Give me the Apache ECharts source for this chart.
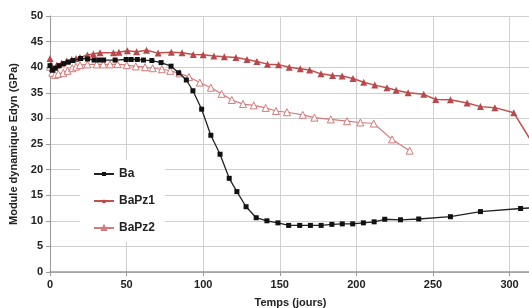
<!DOCTYPE html>
<html>
<head>
<meta charset="utf-8">
<script src="https://cdn.jsdelivr.net/npm/echarts@6/dist/echarts.min.js"></script>
<style>
  html, body { margin: 0; padding: 0; background: #fff; }
  #chart { width: 529px; height: 308px; }
</style>
</head>
<body>
<div id="chart"></div>
<script>
// valeurs (jours, GPa)
const daysBa = [0, 1.5, 3.5, 6, 9, 12, 15, 20, 24.5, 28.8, 32, 35, 42.5, 49.7, 53, 57, 61, 66.5, 72.5, 79, 84, 89, 93.3, 99, 105, 111, 117, 122, 128, 134.6, 141.6, 148.8, 155.8, 163, 170, 177, 184, 190.8, 197.6, 204.6, 211.6, 218.5, 228.8, 240.7, 261.4, 281, 307.2, 330];
const edynBa = [40.3, 39.4, 39.8, 40.3, 40.7, 41.0, 41.3, 41.7, 41.6, 41.4, 41.4, 41.4, 41.4, 41.5, 41.5, 41.5, 41.4, 41.3, 40.9, 40.2, 38.9, 37.5, 35.4, 31.8, 26.7, 23.0, 18.3, 15.7, 12.75, 10.6, 10.0, 9.6, 9.1, 9.1, 9.1, 9.1, 9.3, 9.4, 9.4, 9.6, 9.8, 10.3, 10.2, 10.35, 10.8, 11.8, 12.4, 12.8];

const daysPz1 = [0, 1.5, 4.4, 7.6, 10.9, 14.2, 17, 19.6, 24.4, 28.3, 32.7, 41.4, 45, 50.5, 56.5, 63, 70.6, 79.2, 86.2, 93.5, 100, 107, 113.8, 121.4, 128.6, 135.1, 142, 149.2, 156.2, 163.4, 169.5, 176.9, 184.5, 190.7, 197.8, 204.8, 212, 220, 226, 233.8, 244, 251.8, 261.4, 272.3, 281, 290.4, 302.8, 320];
const edynPz1 = [41.7, 39.8, 40.4, 40.75, 41.2, 41.5, 41.7, 41.9, 42.4, 42.6, 42.8, 42.8, 42.9, 43.2, 43.0, 43.3, 42.75, 42.9, 42.8, 42.5, 42.45, 42.2, 42.05, 41.9, 41.5, 41.1, 40.6, 40.5, 40.0, 39.7, 39.45, 38.7, 38.4, 38.3, 37.8, 37.05, 36.5, 36.0, 35.5, 35.0, 34.7, 33.7, 33.65, 33.0, 32.3, 32.1, 31.1, 22.7];

const daysPz2 = [0, 1.5, 3.3, 5.4, 8.7, 11.5, 14.5, 17, 19.6, 24.4, 30.5, 34.8, 39.2, 44, 50.1, 56, 62, 67, 73, 78.5, 84.5, 90.7, 97.8, 105, 112, 118.7, 126, 133, 140.8, 147.5, 154.7, 165, 172.6, 183.3, 193.9, 202.6, 211.3, 223.3, 234.8];
const edynPz2 = [40.1, 38.9, 38.5, 38.7, 38.9, 39.3, 39.8, 40.1, 40.4, 40.55, 40.55, 40.55, 40.55, 40.6, 40.4, 40.15, 40.0, 39.8, 39.6, 39.3, 38.8, 38.1, 37.0, 36.0, 34.8, 33.6, 32.8, 32.55, 32.05, 31.45, 31.2, 30.7, 30.15, 29.8, 29.45, 29.2, 29.0, 25.9, 23.7];

const xTicks = [0, 50, 100, 150, 200, 250, 300];

function pairs(xs, ys) {
  return xs.map((x, i) => [x, ys[i]]);
}

const chart = echarts.init(document.getElementById('chart'));

const option = {
  animation: false,
  backgroundColor: '#fff',
  textStyle: { fontFamily: 'Liberation Sans, Arial, sans-serif' },
  grid: { left: 50, top: 16, right: -2, bottom: 36, outerBoundsMode: 'none' },
  legend: {
    orient: 'vertical',
    left: 80,
    top: 160,
    padding: [8, 10, 8, 13],
    itemWidth: 20,
    itemHeight: 5,
    itemGap: 15,
    backgroundColor: '#fff',
    textStyle: { fontSize: 12, fontWeight: 'bold', color: '#222' },
    data: ['Ba', 'BaPz1', 'BaPz2']
  },
  xAxis: {
    type: 'value',
    min: 0,
    max: 314,
    interval: 50,
    name: 'Temps (jours)',
    nameLocation: 'middle',
    nameGap: 25,
    nameTextStyle: { fontSize: 11, fontWeight: 'bold', color: '#222' },
    axisLine: { lineStyle: { color: '#999', width: 1.5 } },
    axisTick: { show: true, length: 4, lineStyle: { color: '#999' } },
    axisLabel: {
      fontSize: 11, fontWeight: 'bold', color: '#222', margin: 7,
      formatter: v => xTicks.includes(v) ? String(v) : ''
    },
    splitLine: { show: true, lineStyle: { color: '#cfcfcf', width: 1 } }
  },
  yAxis: {
    type: 'value',
    min: 0,
    max: 50,
    interval: 5,
    name: 'Module dynamique Edyn (GPa)',
    nameLocation: 'middle',
    nameGap: 21,
    nameTextStyle: { fontSize: 11, fontWeight: 'bold', color: '#222' },
    axisLine: { show: true, lineStyle: { color: '#999', width: 1 } },
    axisTick: { show: true, length: 4, lineStyle: { color: '#999' } },
    axisLabel: { fontSize: 11, fontWeight: 'bold', color: '#222', margin: 7 },
    splitLine: { show: true, lineStyle: { color: '#cfcfcf', width: 1 } }
  },
  series: [
    {
      name: 'Ba',
      type: 'line',
      data: pairs(daysBa, edynBa),
      symbol: 'rect',
      symbolSize: 5,
      lineStyle: { color: '#222', width: 1.3 },
      itemStyle: { color: '#111' },
      z: 4
    },
    {
      name: 'BaPz1',
      type: 'line',
      data: pairs(daysPz1, edynPz1),
      symbol: 'triangle',
      symbolSize: 7,
      lineStyle: { color: '#c0504d', width: 1.5 },
      itemStyle: { color: '#b8484a' },
      z: 3
    },
    {
      name: 'BaPz2',
      type: 'line',
      data: pairs(daysPz2, edynPz2),
      symbol: 'triangle',
      symbolSize: 7,
      lineStyle: { color: '#d27a78', width: 1.2 },
      itemStyle: { color: '#fff', borderColor: '#d27a78', borderWidth: 1 },
      z: 2
    }
  ]
};

chart.setOption(option);
window.addEventListener('resize', () => chart.resize());
</script>
</body>
</html>
